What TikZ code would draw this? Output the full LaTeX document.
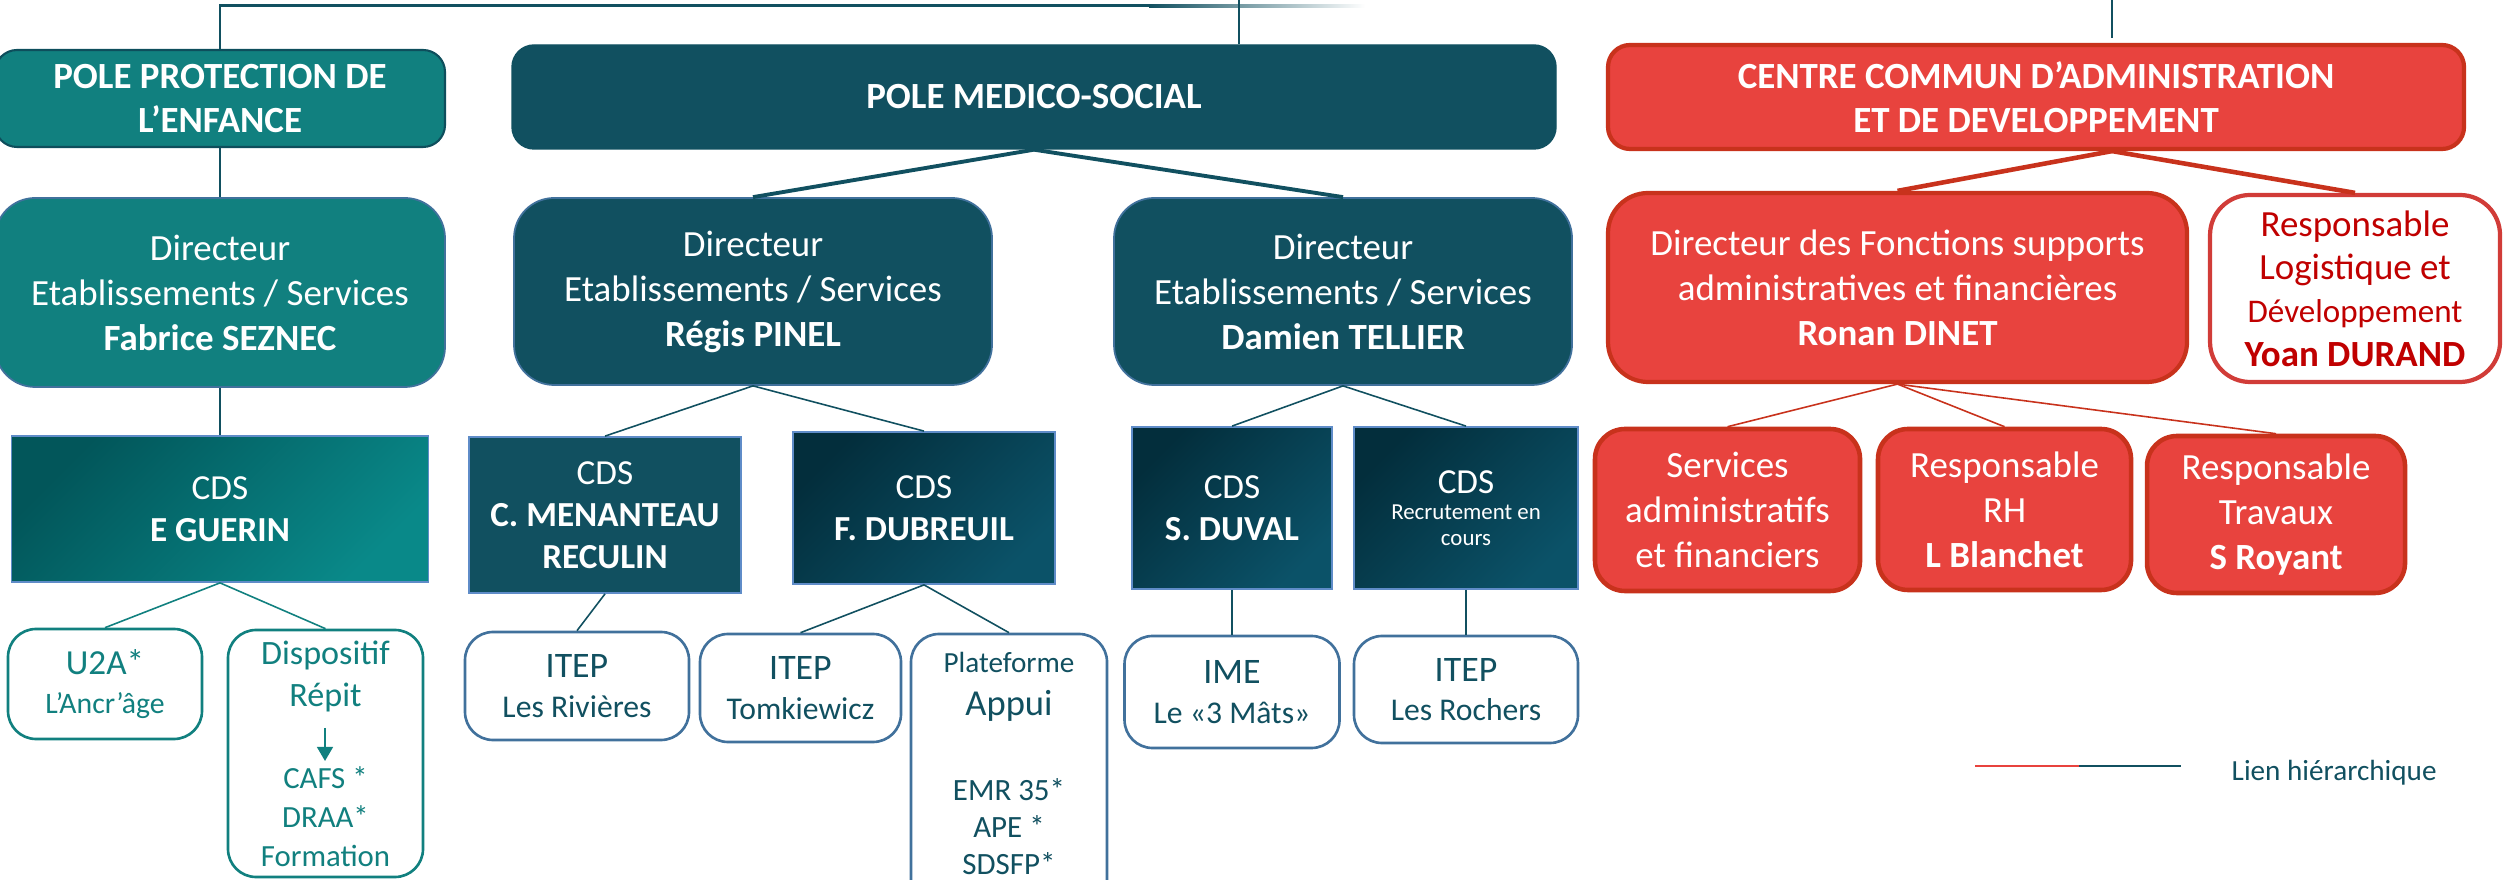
\documentclass[tikz,border=0pt]{standalone}
\usepackage{fontspec}
\setmainfont{Carlito}
\usetikzlibrary{arrows.meta}
\definecolor{tealA}{RGB}{17,128,127}
\definecolor{tealB}{RGB}{14,78,92}
\definecolor{dteal}{RGB}{17,80,96}
\definecolor{redA}{RGB}{232,67,62}
\definecolor{redB}{RGB}{200,50,28}
\definecolor{redT}{RGB}{192,0,0}
\definecolor{bblue}{RGB}{65,113,156}
\definecolor{lblue}{RGB}{95,140,200}
\definecolor{gA}{RGB}{2,86,90}
\definecolor{gB}{RGB}{9,137,137}
\definecolor{dA}{RGB}{3,46,60}
\definecolor{dB}{RGB}{11,82,104}
\newcommand\fz[2]{\fontsize{#1pt}{#2pt}\selectfont}
\begin{document}
\begin{tikzpicture}[x=0.01cm,y=-0.01cm,
 sz/.style 2 args={minimum width=#1*0.01cm,minimum height=#2*0.01cm},
 box/.style={rectangle,inner sep=0pt,align=center,text=white},
 hdr/.style={box,font=\bfseries\fz{10.5}{12.5},rounded corners=0.22cm},
 dir/.style={box,font=\fz{10.5}{12.8},rounded corners=0.4cm},
 cds/.style={box,draw=lblue,line width=0.5pt,font=\fz{10}{12}},
 gteal/.style={top color=gA,bottom color=gB,shading angle=45},
 gdark/.style={top color=dA,bottom color=dB,shading angle=45},
 rbox/.style={box,fill=redA,draw=redB,line width=1.3pt,rounded corners=0.3cm,font=\fz{10.5}{12.8}},
 wbox/.style={rectangle,inner sep=0pt,align=center,fill=white,line width=0.75pt,rounded corners=0.28cm},
 ibox/.style={wbox,draw=bblue,text=dteal,font=\fz{9}{11.2}},
 lk/.style={line width=0.45pt},
]
\useasboundingbox (0,0) rectangle (2504,880);
\clip (0,0) rectangle (2504,880);

% top line
\coordinate (t0) at (220,6);
\coordinate (t1) at (1150,6);
\coordinate (pt) at (1239,0);
\coordinate (rt0) at (2112,0);
\coordinate (rt1) at (2112,38);

% row 1
\node[hdr,fill=tealA,draw=tealB,line width=0.6pt,sz={450}{97}] (ppe) at (220,98.5) {POLE PROTECTION DE\\L’ENFANCE};
\node[hdr,fill=dteal,draw=dteal,sz={1044}{104}] (pms) at (1034,97) {POLE MEDICO-SOCIAL};
\node[hdr,fill=redA,draw=redB,line width=1.2pt,sz={856}{104}] (ccad) at (2036,97) {CENTRE COMMUN D’ADMINISTRATION\\ET DE DEVELOPPEMENT};

% row 2
\node[dir,fill=tealA,draw=bblue,line width=0.5pt,sz={450}{189}] (fabrice) at (220,292.5) {Directeur\\Etablissements / Services\\\textbf{Fabrice SEZNEC}};
\node[dir,fill=dteal,draw=bblue,line width=0.5pt,sz={478}{187}] (regis) at (753,291.5) {Directeur\\Etablissements / Services\\\textbf{Régis PINEL}};
\node[dir,fill=dteal,draw=bblue,line width=0.5pt,sz={458}{187}] (damien) at (1343,291.5) {Directeur\\Etablissements / Services\\\textbf{Damien TELLIER}};
\node[dir,fill=redA,draw=redB,line width=1.2pt,sz={579}{189}] (ronan) at (1897.5,287.5) {Directeur des Fonctions supports\\administratives et financières\\\textbf{Ronan DINET}};
\node[dir,fill=white,draw=redA!90!black,line width=1.2pt,text=redT,font=\fz{10.5}{12.3},sz={290}{187}] (yoan) at (2355,288.5) {Responsable\\Logistique et\\{\fz{9.4}{12.3}Développement}\\\textbf{Yoan DURAND}};

% row 3
\node[cds,gteal,sz={417}{146}] (guerin) at (220,509) {CDS\\\textbf{E GUERIN}};
\node[cds,fill=dteal,sz={272}{156}] (menanteau) at (605,515) {CDS\\\textbf{C. MENANTEAU}\\\textbf{RECULIN}};
\node[cds,gdark,sz={262}{152}] (dubreuil) at (924,508) {CDS\\\textbf{F. DUBREUIL}};
\node[cds,gdark,sz={200}{162}] (duval) at (1232,508) {CDS\\\textbf{S. DUVAL}};
\node[cds,gdark,font=\fz{6.5}{7.4},sz={224}{162}] (recrut) at (1466,508) {{\fz{10}{7.4}CDS}\\Recrutement en\\cours};
\node[rbox,sz={265}{162}] (services) at (1727.5,510) {Services\\administratifs\\et financiers};
\node[rbox,sz={253}{161}] (rh) at (2004.5,509.5) {Responsable\\RH\\\textbf{L Blanchet}};
\node[rbox,sz={258}{157}] (travaux) at (2276,514.5) {Responsable\\Travaux\\\textbf{S Royant}};

% row 4
\node[wbox,draw=tealA,text=tealA,font=\fz{8.45}{11.3},sz={194}{110}] (u2a) at (105,684) {{\fz{10}{11.3}U2A*}\\L’Ancr’âge};
\node[wbox,draw=tealA,text=tealA,font=\fz{8.75}{11},sz={195}{247}] (dispo) at (325.5,753.5) {{\fz{9.7}{11}Dispositif}\\[1.2pt]{\fz{9.7}{11}Répit}\\[12.3pt]CAFS *\\DRAA*\\Formation};
\node[ibox,sz={224}{108}] (riv) at (577,686) {{\fz{10.2}{11.2}ITEP}\\Les Rivières};
\node[ibox,sz={201}{108}] (tomk) at (800.5,688) {{\fz{10.2}{11.2}ITEP}\\Tomkiewicz};
\node[wbox,draw=bblue,sz={196}{280}] (plat) at (1009,774) {};
\node[anchor=north,inner sep=0pt,align=center,text=dteal,font=\fz{8.8}{10.5}] (platT) at (1009,652) {{\fz{8.3}{10.5}Plateforme}\\[1.7pt]{\fz{10.4}{10.5}Appui}\\[13.7pt]EMR 35*\\APE *\\SDSFP*};
\node[ibox,sz={215}{112}] (ime) at (1232,692) {{\fz{10.2}{11.2}IME}\\Le «3 Mâts»};
\node[ibox,sz={224}{107}] (roch) at (1466,689.5) {{\fz{10.2}{11.2}ITEP}\\Les Rochers};

% top connectors
\draw[dteal,line width=0.85pt] (ppe.north) -- (t0) -- (t1);
\shade[left color=dteal,right color=white] (1149,4.5) rectangle (1365,7.5);
\draw[dteal,line width=0.5pt] (pt) -- (pt |- pms.north);
\draw[dteal,line width=0.8pt] (rt0) -- (rt1);

% row1 -> row2
\draw[dteal,line width=0.6pt] (ppe.south) -- (fabrice.north);
\draw[dteal,line width=1.1pt] (pms.south) -- (regis.north);
\draw[dteal,line width=1.1pt] (pms.south) -- (damien.north);
\draw[redB,line width=1.3pt] ([xshift=0.76cm]ccad.south) -- (ronan.north);
\draw[redB,line width=1.3pt] ([xshift=0.76cm]ccad.south) -- (yoan.north);

% row2 -> row3
\draw[dteal,lk] (fabrice.south) -- (guerin.north);
\draw[dteal,lk] (regis.south) -- (menanteau.north);
\draw[dteal,lk] (regis.south) -- (dubreuil.north);
\draw[dteal,lk] (damien.south) -- (duval.north);
\draw[dteal,lk] (damien.south) -- (recrut.north);
\draw[redB,lk] (ronan.south) -- (services.north);
\draw[redB,lk] (ronan.south) -- (rh.north);
\draw[redB,lk] (ronan.south) -- (travaux.north);

% row3 -> row4
\draw[tealA,lk] (guerin.south) -- (u2a.north);
\draw[tealA,lk] (guerin.south) -- (dispo.north);
\draw[dteal,lk] (menanteau.south) -- (riv.north);
\draw[dteal,lk] (dubreuil.south) -- (tomk.north);
\draw[dteal,lk] (dubreuil.south) -- (plat.north);
\draw[dteal,lk] (duval.south) -- (ime.north);
\draw[dteal,lk] (recrut.south) -- (roch.north);

% arrow in Dispositif
\draw[tealA,line width=0.6pt,-{Triangle[length=4pt,width=4.5pt]}] (325,728) -- (325,761);

% legend
\coordinate (l0) at (1975,766);
\coordinate (l1) at (2079,766);
\coordinate (l2) at (2181,766);
\draw[redA,line width=0.6pt] (l0) -- (l1);
\draw[dteal,line width=0.6pt] (l1) -- (l2);
\node[anchor=west,inner sep=0pt,text=dteal,font=\fz{8.3}{10}] (leg) at (2231,773) {Lien hiérarchique};
\end{tikzpicture}
\end{document}
